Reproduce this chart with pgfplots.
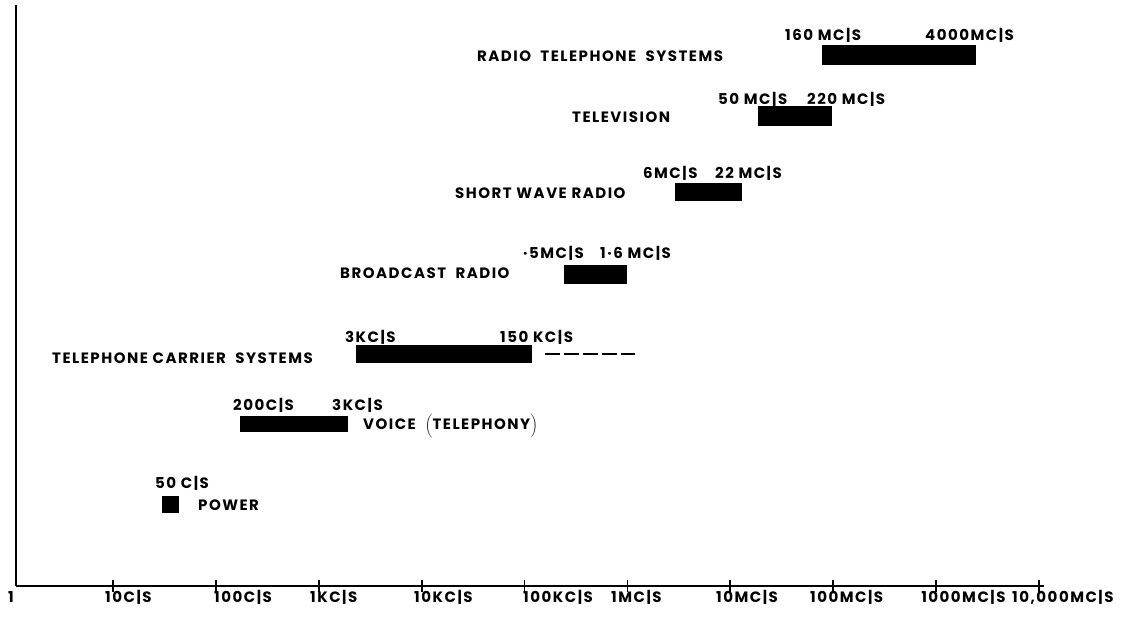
\documentclass[border=0pt]{standalone}
\usepackage{fontspec}
\setmainfont{Poppins}[LetterSpace=10]
\usepackage{graphicx}
\usepackage{pgfplots}
\pgfplotsset{compat=1.18}
\tikzset{lbl/.style={anchor=base west, inner sep=0pt, yshift=-5.5pt, font=\fontsize{15}{17}\selectfont\bfseries}}
\begin{document}
\begin{tikzpicture}
\begin{axis}[
  scale only axis, width=1028pt, height=581pt,
  xmode=log, xmin=1.135, xmax=1.124e10, ymin=0, ymax=581,
  axis x line=bottom, axis y line=left,
  axis line style={-, line width=2.2pt, black},
  xtick={10,100,1000,1e4,1e5,1e6,1e7,1e8,1e9,1e10},
  xticklabels={,,,,,,,,,},
  xminorticks=false, ytick=\empty,
  major tick length=12pt, tick align=center,
  tick style={line width=1.6pt, black},
  clip=false,
]
% bars: frequency extents (c/s) as drawn, vertical band of each row
\addplot[fill=black, draw=none] coordinates {(7.80e7,521) (2.45e9,521) (2.45e9,541) (7.80e7,541)} --cycle;
\addplot[fill=black, draw=none] coordinates {(1.86e7,460) (9.75e7,460) (9.75e7,480) (1.86e7,480)} --cycle;
\addplot[fill=black, draw=none] coordinates {(2.90e6,385) (1.30e7,385) (1.30e7,403) (2.90e6,403)} --cycle;
\addplot[fill=black, draw=none] coordinates {(2.42e5,302) (9.91e5,302) (9.91e5,321) (2.42e5,321)} --cycle;
\addplot[fill=black, draw=none] coordinates {(2296,223) (1.183e5,223) (1.183e5,241) (2296,241)} --cycle;
\addplot[black, line width=2.4pt, dash pattern=on 15pt off 4pt] coordinates {(1.58e5,232) (1.186e6,232)};
\addplot[fill=black, draw=none] coordinates {(171,154) (1923,154) (1923,170) (171,170)} --cycle;
\addplot[fill=black, draw=none] coordinates {(29.9,73) (43.65,73) (43.65,90) (29.9,90)} --cycle;
% labels
\node[lbl] at (rel axis cs:.4484,.9122) {RADIO\ \ TELEPHONE\ \ SYSTEMS};
\node[lbl] at (rel axis cs:.7481,.9484) {160 MC|S};
\node[lbl] at (rel axis cs:.8842,.9484) {4000MC|S};
\node[lbl] at (rel axis cs:.5409,.8072) {TELEVISION};
\node[lbl] at (rel axis cs:.6829,.8382) {50 MC|S};
\node[lbl] at (rel axis cs:.7695,.8382) {220 MC|S};
\node[lbl] at (rel axis cs:.4270,.6764) {SHORT WAVE RADIO};
\node[lbl] at (rel axis cs:.6099,.7108) {6MC|S};
\node[lbl] at (rel axis cs:.6800,.7108) {22 MC|S};
\node[lbl] at (rel axis cs:.3152,.5387) {BROADCAST\ \ RADIO};
\node[lbl] at (rel axis cs:.4932,.5731) {·5MC|S};
\node[lbl] at (rel axis cs:.5681,.5731) {1·6 MC|S};
\node[lbl] at (rel axis cs:.0350,.3924) {TELEPHONE CARRIER\ \ SYSTEMS};
\node[lbl] at (rel axis cs:.3200,.4286) {3KC|S};
\node[lbl] at (rel axis cs:.4708,.4286) {150 KC|S};
\node[lbl] at (rel axis cs:.2111,.3115) {200C|S};
\node[lbl] at (rel axis cs:.3074,.3115) {3KC|S};
\node[lbl] at (rel axis cs:.3375,.2788) {VOICE\ \ $\bigg($TELEPHONY$\bigg)$};
\node[lbl] at (rel axis cs:.1352,.1773) {50 C|S};
\node[lbl] at (rel axis cs:.1770,.1394) {POWER};
% tick labels
\node[lbl] at (rel axis cs:-.0078,-.0189) {1};
\node[lbl] at (rel axis cs:.0866,-.0189) {10C|S};
\node[lbl] at (rel axis cs:.1926,-.0189) {100C|S};
\node[lbl] at (rel axis cs:.2860,-.0189) {1KC|S};
\node[lbl] at (rel axis cs:.3872,-.0189) {10KC|S};
\node[lbl] at (rel axis cs:.4932,-.0189) {100KC|S};
\node[lbl] at (rel axis cs:.5788,-.0189) {1MC|S};
\node[lbl] at (rel axis cs:.6809,-.0189) {10MC|S};
\node[lbl] at (rel axis cs:.7724,-.0189) {100MC|S};
\node[lbl] at (rel axis cs:.8804,-.0189) {1000MC|S};
\node[lbl] at (rel axis cs:.9689,-.0189) {10,000MC|S};
\coordinate (O) at (rel axis cs:0,0);
\end{axis}
\pgfresetboundingbox
\path (O) ++(-16pt,-34pt) rectangle ++(1127pt,620pt);
\end{tikzpicture}
\end{document}
